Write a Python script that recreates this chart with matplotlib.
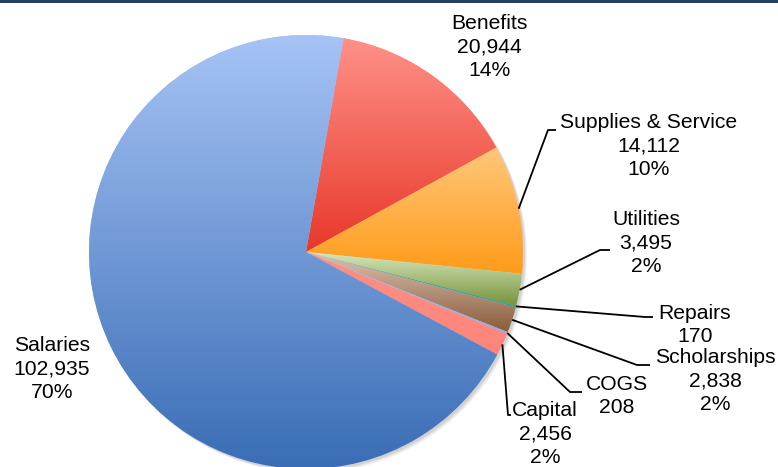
import numpy as np
import matplotlib
matplotlib.use("Agg")
import matplotlib.pyplot as plt
from matplotlib.colors import LinearSegmentedColormap
from matplotlib.patches import Rectangle, Circle

plt.rcParams['font.family'] = ['Liberation Sans', 'DejaVu Sans']

categories = ['Benefits', 'Supplies & Service', 'Utilities', 'Repairs',
              'Scholarships', 'COGS', 'Capital', 'Salaries']
values = [20944, 14112, 3495, 170, 2838, 208, 2456, 102935]
top_colors = ['#ff9188', '#ffc77a', '#d6e6bb', '#3cb8b0', '#dcc3b4', '#a9c4ee', '#ff8f86', '#a6c3f5']
bottom_colors = ['#e8382a', '#ff9b19', '#76923a', '#2aa59c', '#8a5d3b', '#8fb0e6', '#ff857a', '#3a6db5']

# layout (pixel coordinates in a 778x467 canvas)
W, H = 778, 467
CX, CY, R = 306, 252, 217
label_pos = {  # text centre
    'Benefits': (489, 47), 'Supplies & Service': (649, 146), 'Utilities': (646, 243),
    'Repairs': (695, 325), 'Scholarships': (715, 381), 'COGS': (617, 396),
    'Capital': (545, 434), 'Salaries': (52, 369),
}
leader_elbows = {  # elbow point, end point
    'Supplies & Service': [(548, 130), (556, 130)],
    'Utilities': [(600, 250), (610, 250)],
    'Repairs': [(645, 317), (653, 317)],
    'Scholarships': [(637, 365), (650, 365)],
    'COGS': [(570, 392), (582, 392)],
    'Capital': [(508, 415), (511, 415)],
}

def px(x, y):
    return ((x - CX) / R, (CY - y) / R)

fig = plt.figure(figsize=(W / 100, H / 100), dpi=100)
ax = fig.add_axes([0, 0, 1, 1])
ax.set_axis_off()

# soft shadow
for off, a in [(4, 0.05), (3, 0.06), (2, 0.08)]:
    ax.add_patch(Circle(px(CX + off, CY - 0 + off), 1.0, facecolor='black', alpha=a,
                        edgecolor='none', zorder=0))

wedges, _ = ax.pie(values, startangle=80, counterclock=False, radius=1,
                   center=(0, 0), colors=top_colors, wedgeprops=dict(linewidth=0))

grad = np.linspace(0, 1, 256).reshape(-1, 1)
for w, c1, c2 in zip(wedges, top_colors, bottom_colors):
    w.set_zorder(1)
    bb = w.get_path().get_extents()
    cmap = LinearSegmentedColormap.from_list('g', [c1, c2])
    im = ax.imshow(grad, cmap=cmap, extent=(bb.x0, bb.x1, bb.y0, bb.y1),
                   origin='upper', aspect='auto', zorder=2, interpolation='bilinear')
    im.set_clip_path(w)

ax.set_aspect('auto')
ax.set_xlim(-CX / R, (W - CX) / R)
ax.set_ylim(-(H - CY) / R, CY / R)

total = sum(values)
for w, name, v in zip(wedges, categories, values):
    pct = 100 * v / total
    txt = f"{name}\n{v:,}"
    if round(pct) >= 1:
        txt += f"\n{pct:.0f}%"
    lx, ly = px(*label_pos[name])
    ax.text(lx, ly, txt, ha='center', va='center', multialignment='center',
            fontsize=15.2, linespacing=1.3, color='black', zorder=5)
    if name in leader_elbows:
        ang = np.deg2rad((w.theta1 + w.theta2) / 2)
        pts = [(np.cos(ang), np.sin(ang))] + [px(*p) for p in leader_elbows[name]]
        xs, ys = zip(*pts)
        ax.plot(xs, ys, color='black', lw=1.3, zorder=4, solid_capstyle='butt')

fig.add_artist(Rectangle((0, 1 - 3 / H), 1, 3 / H, transform=fig.transFigure,
                         facecolor='#243f60', edgecolor='none'))

fig.savefig('out.png', dpi=100)
